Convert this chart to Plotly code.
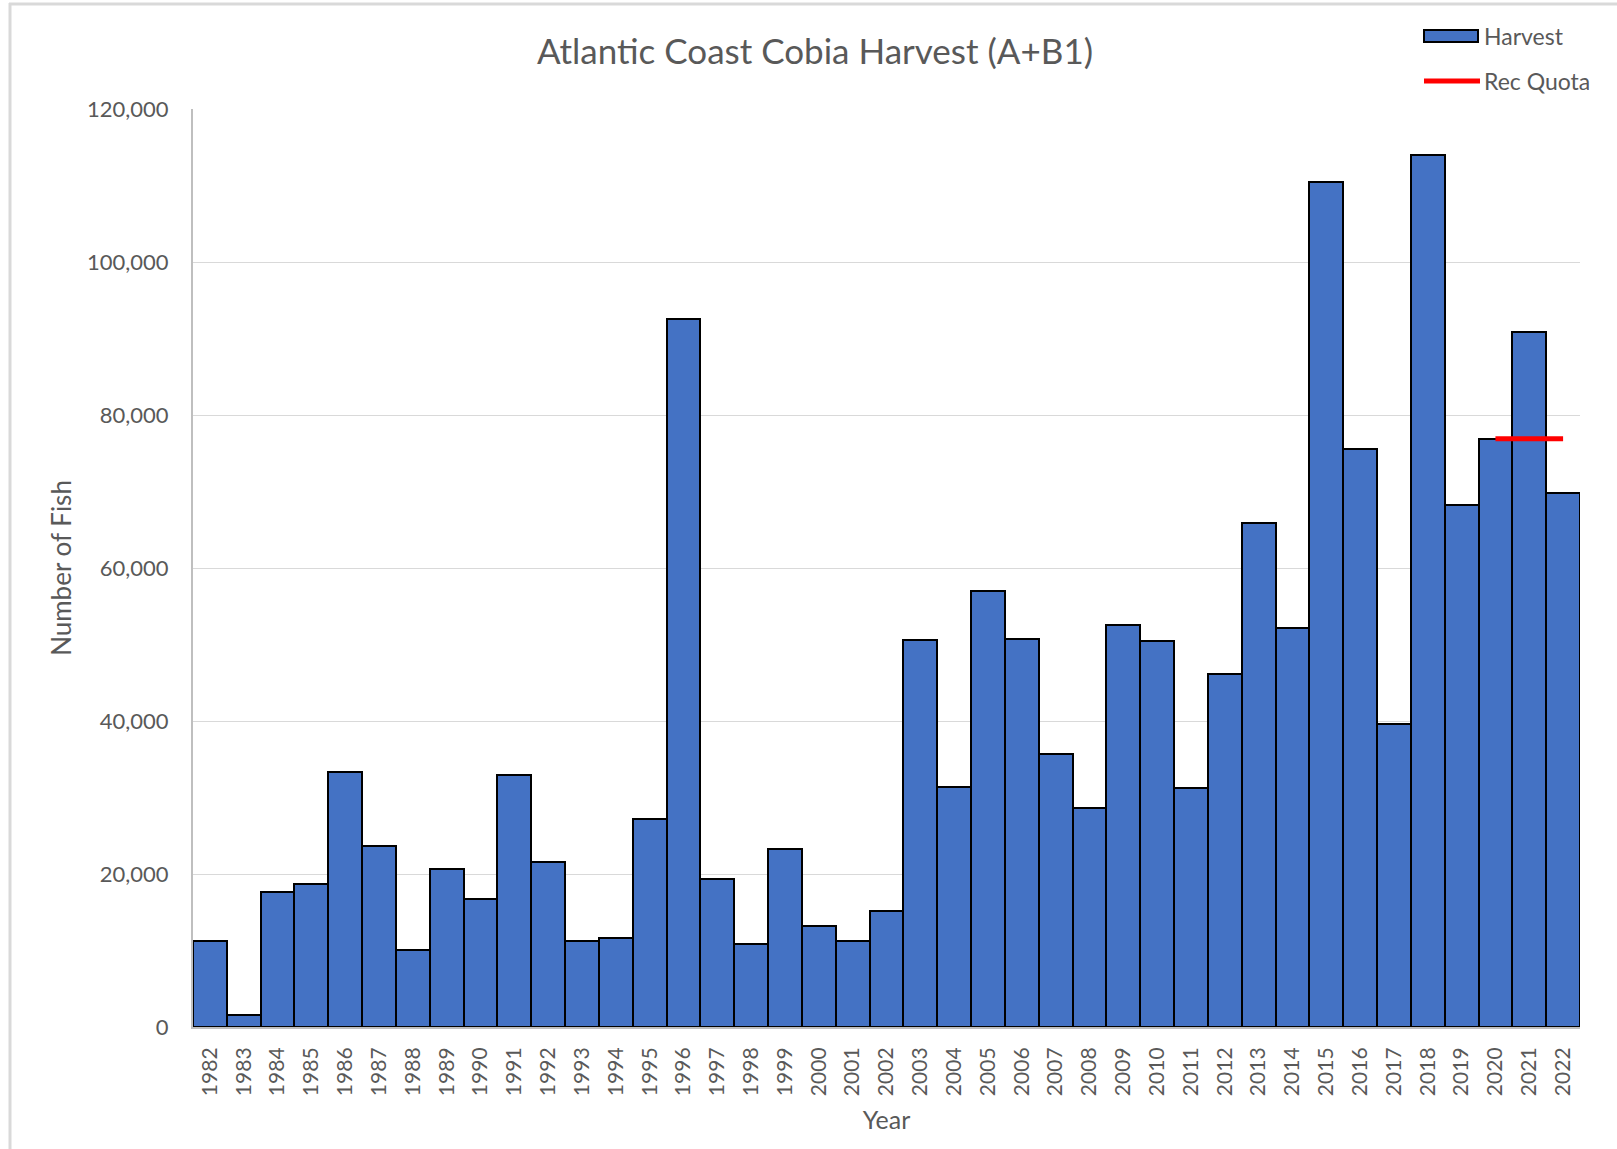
import plotly.graph_objects as go

years = list(range(1982, 2023))
harvest = [11200, 1600, 17700, 18700, 33300, 23700, 10100, 20600, 16700, 33000,
           21600, 11300, 11700, 27200, 92500, 19300, 10800, 23300, 13200, 11200,
           15200, 50600, 31400, 57000, 50700, 35700, 28600, 52500, 50400, 31300,
           46100, 65900, 52200, 110400, 75600, 39600, 114000, 68200, 76800, 90900,
           69800]
quota_years = [2020, 2021, 2022]
quota_values = [76900, 76900, 76900]
y_ticks = [0, 20000, 40000, 60000, 80000, 100000, 120000]

FONT = "Lato"
GRAY = "#595959"
W, H = 1617, 1149
L, R, T, B = 193, 1580, 109, 1027

def px(x):
    return (x - L) / (R - L)

def py(y):
    return (B - y) / (B - T)

fig = go.Figure()
fig.add_trace(go.Bar(
    x=years, y=harvest, name="Harvest",
    marker=dict(color="#4472C4", line=dict(color="black", width=2)),
    width=1, showlegend=False,
))
fig.add_trace(go.Scatter(
    x=quota_years, y=quota_values, name="Rec Quota", mode="lines",
    line=dict(color="#FF0000", width=5), showlegend=False,
))

shapes = [
    # outer chart frame (left and top)
    dict(type="line", xref="paper", yref="paper", x0=px(10), x1=px(10), y0=py(3), y1=py(1149), line=dict(color="#D9D9D9", width=3)),
    dict(type="line", xref="paper", yref="paper", x0=px(9), x1=px(1617), y0=py(4), y1=py(4), line=dict(color="#D9D9D9", width=3)),
    # legend swatches
    dict(type="rect", xref="paper", yref="paper", x0=px(1424), x1=px(1478), y0=py(30), y1=py(42),
         fillcolor="#4472C4", line=dict(color="black", width=2)),
    dict(type="line", xref="paper", yref="paper", x0=px(1424), x1=px(1480), y0=py(81), y1=py(81),
         line=dict(color="#FF0000", width=5)),
]
annotations = [
    dict(text="Harvest", xref="paper", yref="paper", x=px(1482), y=py(36), xanchor="left", yanchor="middle",
         showarrow=False, font=dict(family=FONT, size=23, color=GRAY)),
    dict(text="Rec Quota", xref="paper", yref="paper", x=px(1482), y=py(81), xanchor="left", yanchor="middle",
         showarrow=False, font=dict(family=FONT, size=23, color=GRAY)),
]

fig.update_layout(
    width=W, height=H,
    margin=dict(l=L, r=W - R, t=T, b=H - B),
    paper_bgcolor="white", plot_bgcolor="white",
    bargap=0,
    title=dict(text="Atlantic Coast Cobia Harvest (A+B1)", x=815 / W, xanchor="center",
               y=1 - 52 / H, yanchor="middle", font=dict(family=FONT, size=35, color=GRAY)),
    xaxis=dict(
        tickmode="array", tickvals=years, ticktext=[str(y) for y in years],
        tickangle=-90, range=[1981.5, 2022.5],
        tickfont=dict(family=FONT, size=21, color=GRAY),
        showline=True, linecolor="#BFBFBF", linewidth=2, showgrid=False, ticks="",
        ticklabelstandoff=10,
        title=dict(text="Year", font=dict(family=FONT, size=25, color=GRAY), standoff=16),
    ),
    yaxis=dict(
        range=[0, 120000], tickvals=y_ticks, tickformat=",d",
        tickfont=dict(family=FONT, size=22, color=GRAY),
        showgrid=True, gridcolor="#D9D9D9", gridwidth=1,
        showline=True, linecolor="#BFBFBF", linewidth=2, ticks="", zeroline=False,
        title=dict(text="Number of Fish", font=dict(family=FONT, size=26, color=GRAY), standoff=8),
        ticklabelstandoff=18,
    ),
    shapes=shapes, annotations=annotations,
)

fig.write_html("out.html", post_script="document.body.style.margin='0';",
               config={"displayModeBar": False})
